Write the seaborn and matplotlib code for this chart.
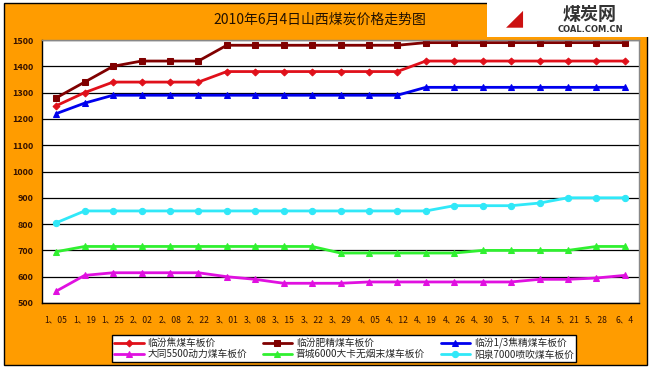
import matplotlib
matplotlib.use("Agg")
import matplotlib.pyplot as plt
import seaborn as sns
import pandas as pd
import numpy as np
from matplotlib.patches import Rectangle

dates = ["1、05", "1、19", "1、25", "2、02", "2、08", "2、22", "3、01", "3、08", "3、15", "3、22",
         "3、29", "4、05", "4、12", "4、19", "4、26", "4、30", "5、7", "5、14", "5、21", "5、28", "6、4"]

linfen_jiao = [1250, 1300, 1340, 1340, 1340, 1340, 1380, 1380, 1380, 1380, 1380, 1380, 1380,
               1420, 1420, 1420, 1420, 1420, 1420, 1420, 1420]
linfen_fei = [1280, 1340, 1400, 1420, 1420, 1420, 1480, 1480, 1480, 1480, 1480, 1480, 1480,
              1490, 1490, 1490, 1490, 1490, 1490, 1490, 1490]
linfen_13 = [1220, 1260, 1290, 1290, 1290, 1290, 1290, 1290, 1290, 1290, 1290, 1290, 1290,
             1320, 1320, 1320, 1320, 1320, 1320, 1320, 1320]
datong = [545, 605, 615, 615, 615, 615, 600, 590, 575, 575, 575, 580, 580,
          580, 580, 580, 580, 590, 590, 595, 605]
jincheng = [695, 715, 715, 715, 715, 715, 715, 715, 715, 715, 690, 690, 690,
            690, 690, 700, 700, 700, 700, 715, 715]
yangquan = [805, 850, 850, 850, 850, 850, 850, 850, 850, 850, 850, 850, 850,
            850, 870, 870, 870, 880, 900, 900, 900]

series_names = ["临汾焦煤车板价", "临汾肥精煤车板价", "临汾1/3焦精煤车板价",
                "大同5500动力煤车板价", "晋城6000大卡无烟末煤车板价", "阳泉7000喷吹煤车板价"]
series_values = [linfen_jiao, linfen_fei, linfen_13, datong, jincheng, yangquan]
colors = ["#E0101A", "#800000", "#0000EE", "#E010E0", "#30F030", "#30E8F8"]
markers = ["D", "s", "^", "^", "^", "o"]
msizes = [3.5, 4.5, 5, 5, 5, 4.5]

title = "2010年6月4日山西煤炭价格走势图"

rows = []
for name, vals in zip(series_names, series_values):
    for i, (d, v) in enumerate(zip(dates, vals)):
        rows.append({"series": name, "idx": i, "date": d, "value": v})
df = pd.DataFrame(rows)

sns.set_style("white")
plt.rcParams['font.family'] = ['Noto Sans CJK SC', 'DejaVu Sans']

W, H = 652, 369
fig = plt.figure(figsize=(W / 100, H / 100), dpi=100)
fig.patch.set_facecolor("white")
orange = "#FF9C00"
fig.patches.append(Rectangle((4 / W, 1 - 365 / H), (647 - 4) / W, (365 - 3) / H,
                             transform=fig.transFigure, facecolor=orange,
                             edgecolor="black", linewidth=1.0, zorder=-10))
# logo box
fig.patches.append(Rectangle((487 / W, 1 - 37 / H), (W - 487) / W, 37 / H,
                             transform=fig.transFigure, facecolor="white",
                             edgecolor="none", zorder=-9))

left, right, top, bottom = 42, 639, 40, 303
ax = fig.add_axes([left / W, 1 - bottom / H, (right - left) / W, (bottom - top) / H])
ax.set_zorder(1)
ax.set_facecolor("white")

for name, c, m, ms in zip(series_names, colors, markers, msizes):
    sub = df[df["series"] == name]
    sns.lineplot(data=sub, x="idx", y="value", ax=ax, color=c, marker=m,
                 markersize=ms, markeredgecolor=c, linewidth=2.0, label=name,
                 legend=False)

ax.set_xlim(-0.5, len(dates) - 0.5)
ax.set_ylim(500, 1500)
ax.set_yticks(np.arange(500, 1501, 100))
ax.set_yticklabels([str(v) for v in range(500, 1501, 100)], fontsize=6.5,
                   color="#331100", fontweight="bold")
ax.set_xticks(range(len(dates)))
ax.set_xticklabels(dates, fontsize=6.2, color="#331100")
ax.set_xticks(np.arange(-0.5, len(dates), 1), minor=True)
ax.tick_params(axis="x", which="major", length=0, pad=9)
ax.tick_params(axis="x", which="minor", length=3, direction="in", color="#555555")
ax.tick_params(axis="y", length=0, pad=6)
ax.set_xlabel("")
ax.set_ylabel("")
ax.grid(axis="y", color="black", linewidth=0.9)
ax.grid(axis="x", visible=False)
ax.set_axisbelow(True)
for s in ["left", "bottom"]:
    ax.spines[s].set_color("black")
    ax.spines[s].set_linewidth(1.0)
for s in ["top", "right"]:
    ax.spines[s].set_color("#888888")
    ax.spines[s].set_linewidth(1.0)

fig.text(320 / W, 1 - 20 / H, title, ha="center", va="center", fontsize=10,
         color="#221100")

# logo text
fig.text(590 / W, 1 - 14 / H, "煤炭网", ha="center", va="center", fontsize=13,
         fontweight="bold", color="#333333")
fig.text(590 / W, 1 - 29 / H, "COAL.COM.CN", ha="center", va="center", fontsize=6,
         fontweight="bold", color="#333333", family=["DejaVu Sans"])
fig.text(515 / W, 1 - 18 / H, "◢", ha="center", va="center", fontsize=16,
         color="#CC1111", family=["DejaVu Sans"])

# legend
handles, labels = ax.get_legend_handles_labels()
order = [0, 3, 1, 4, 2, 5]
leg = fig.legend([handles[i] for i in order], [labels[i] for i in order],
                 ncol=3, loc="lower left",
                 bbox_to_anchor=(112 / W, 1 - 362 / H),
                 fontsize=7, frameon=True, fancybox=False,
                 borderpad=0.25, labelspacing=0.1, handlelength=3.0,
                 handletextpad=0.4, columnspacing=1.6, borderaxespad=0)
leg.get_frame().set_edgecolor("black")
leg.get_frame().set_linewidth(1.0)
leg.get_frame().set_facecolor("white")
leg.get_frame().set_alpha(1)

fig.savefig("out.png", dpi=100, facecolor=fig.get_facecolor())
